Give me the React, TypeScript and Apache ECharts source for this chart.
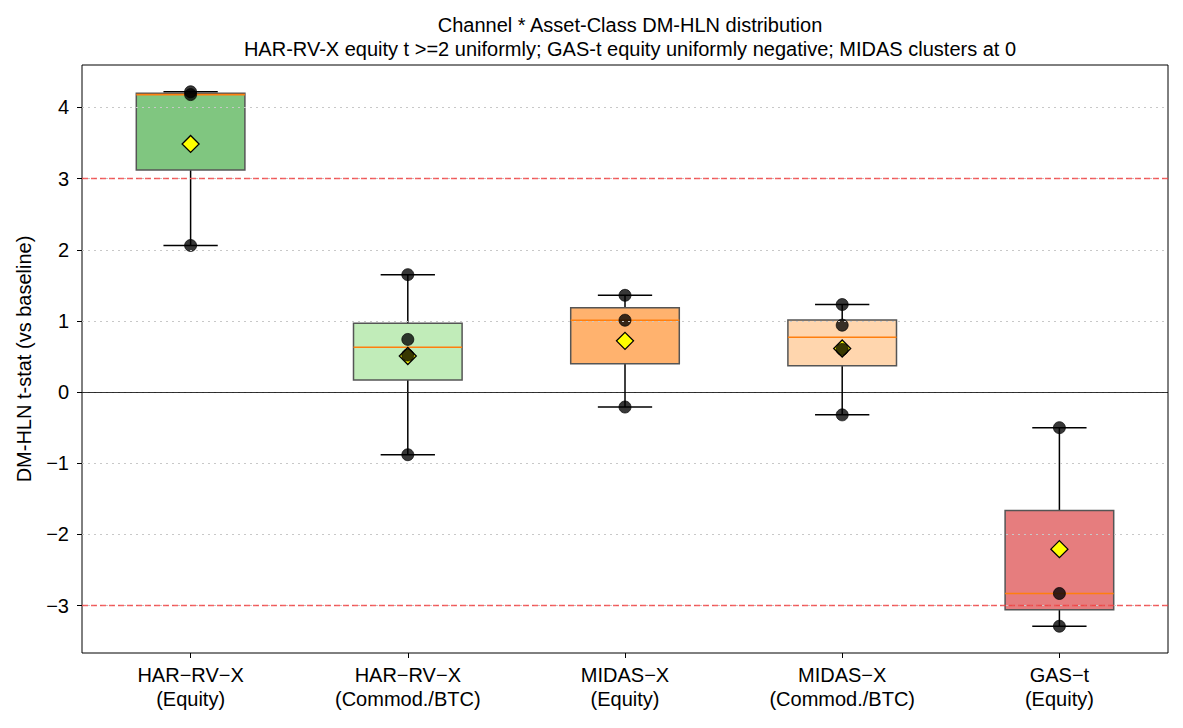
import React, { useEffect, useRef } from "react";
import * as echarts from "echarts";

// Channel x asset-class groups
const categories = [
  "HAR-RV-X\n(Equity)",
  "HAR-RV-X\n(Commod./BTC)",
  "MIDAS-X\n(Equity)",
  "MIDAS-X\n(Commod./BTC)",
  "GAS-t\n(Equity)",
];

// DM-HLN t-statistics per group (vs baseline)
const harEquity = [2.06, 4.18, 4.22];
const harCommod = [-0.88, 0.52, 0.74, 1.65];
const midasEquity = [-0.21, 1.01, 1.36];
const midasCommod = [-0.32, 0.6, 0.94, 1.23];
const gasEquity = [-3.29, -2.83, -0.5];

const groups = [harEquity, harCommod, midasEquity, midasCommod, gasEquity];
const boxColors = ["#80c680", "#c1ecb9", "#ffb26e", "#ffd6ae", "#e67d7e"];

const yTicks = [-3, -2, -1, 0, 1, 2, 3, 4];
const thresholds = [-3, 3];
const yMin = -3.666;
const yMax = 4.596;

const FONT = "'Liberation Sans', Arial, sans-serif";
const FS = 20;

// numpy-style linear percentile
function quantile(sorted: number[], q: number): number {
  const pos = (sorted.length - 1) * q;
  const lo = Math.floor(pos);
  const hi = Math.ceil(pos);
  return sorted[lo] + (sorted[hi] - sorted[lo]) * (pos - lo);
}

// whisker-low, Q1, median, Q3, whisker-high (1.5 IQR rule)
function boxStats(vals: number[]) {
  const s = [...vals].sort((a, b) => a - b);
  const q1 = quantile(s, 0.25);
  const med = quantile(s, 0.5);
  const q3 = quantile(s, 0.75);
  const iqr = q3 - q1;
  const lo = s.filter((v) => v >= q1 - 1.5 * iqr)[0];
  const hiArr = s.filter((v) => v <= q3 + 1.5 * iqr);
  const hi = hiArr[hiArr.length - 1];
  return [lo, q1, med, q3, hi];
}

const minus = (v: number | string) => String(v).replace("-", "\u2212");

export default function App() {
  const ref = useRef<HTMLDivElement>(null);

  useEffect(() => {
    document.body.style.margin = "0";
    if (!ref.current) return;
    const chart = echarts.init(ref.current, undefined, { renderer: "svg" });

    const boxData = groups.map((g, i) => [i, ...boxStats(g)]);
    const meanData = groups.map((g, i) => [i, g.reduce((a, b) => a + b, 0) / g.length]);
    const pointData: number[][] = [];
    groups.forEach((g, i) => g.forEach((v) => pointData.push([i, v])));

    const option: any = {
      animation: false,
      backgroundColor: "#ffffff",
      textStyle: { fontFamily: FONT },
      title: {
        text:
          "Channel * Asset-Class DM-HLN distribution\nHAR-RV-X equity t >=2 uniformly; GAS-t equity uniformly negative; MIDAS clusters at 0",
        left: 625,
        textAlign: "center",
        top: 8,
        textStyle: {
          fontFamily: FONT,
          fontSize: FS,
          fontWeight: "normal",
          color: "#000",
          lineHeight: 24,
        },
      },
      grid: {
        left: 82,
        right: 15,
        top: 65,
        bottom: 75,
        show: true,
        borderColor: "#000",
        borderWidth: 1,
        backgroundColor: "transparent",
      },
      xAxis: {
        type: "category",
        data: categories,
        boundaryGap: true,
        axisLine: { show: false, onZero: false },
        axisTick: {
          show: true,
          alignWithLabel: true,
          length: 5,
          lineStyle: { color: "#000", width: 1 },
        },
        axisLabel: {
          color: "#000",
          fontFamily: FONT,
          fontSize: FS,
          lineHeight: 24,
          margin: 10,
          interval: 0,
          formatter: (v: string) => v.replace(/-/g, "\u2212"),
        },
        splitLine: { show: false },
      },
      yAxis: {
        type: "value",
        min: yMin,
        max: yMax,
        name: "DM-HLN t-stat (vs baseline)",
        nameLocation: "middle",
        nameRotate: 90,
        nameGap: 48,
        nameTextStyle: { fontFamily: FONT, fontSize: FS, color: "#000" },
        axisLine: { show: false, onZero: false },
        axisTick: {
          show: true,
          length: 5,
          customValues: yTicks,
          lineStyle: { color: "#000", width: 1 },
        },
        axisLabel: {
          color: "#000",
          fontFamily: FONT,
          fontSize: FS,
          margin: 13,
          customValues: yTicks,
          formatter: (v: number) => minus(v),
        },
        splitLine: { show: false },
      },
      series: [
        {
          // reference lines: grid, zero line, |t| = 3 thresholds
          type: "line",
          data: [],
          z: 1,
          silent: true,
          markLine: {
            symbol: "none",
            silent: true,
            label: { show: false },
            data: [
              ...yTicks.map((t) => ({
                yAxis: t,
                lineStyle: { type: [2, 4], color: "#c8c8c8", width: 1 },
              })),
              { yAxis: 0, lineStyle: { type: "solid", color: "#000", width: 0.8 } },
              ...thresholds.map((t) => ({
                yAxis: t,
                lineStyle: { type: [6, 3], color: "rgba(240,60,60,0.8)", width: 1.3 },
              })),
            ],
          },
        },
        {
          type: "custom",
          z: 2,
          data: boxData,
          encode: { x: 0, y: [1, 2, 3, 4, 5] },
          renderItem: (params: any, api: any) => {
            const i = api.value(0);
            const band = api.size([1, 0])[0];
            const cx = api.coord([i, 0])[0];
            const y = (k: number) => api.coord([i, api.value(k)])[1];
            const yLo = y(1), yQ1 = y(2), yMed = y(3), yQ3 = y(4), yHi = y(5);
            const hw = band * 0.25;
            const cw = band * 0.125;
            const stroke = { stroke: "#000", lineWidth: 1.5 };
            return {
              type: "group",
              children: [
                { type: "line", shape: { x1: cx, y1: yQ1, x2: cx, y2: yLo }, style: stroke },
                { type: "line", shape: { x1: cx, y1: yQ3, x2: cx, y2: yHi }, style: stroke },
                { type: "line", shape: { x1: cx - cw, y1: yLo, x2: cx + cw, y2: yLo }, style: stroke },
                { type: "line", shape: { x1: cx - cw, y1: yHi, x2: cx + cw, y2: yHi }, style: stroke },
                {
                  type: "rect",
                  shape: { x: cx - hw, y: yQ3, width: hw * 2, height: yQ1 - yQ3 },
                  style: { fill: boxColors[params.dataIndex], stroke: "#555555", lineWidth: 1.5 },
                },
                {
                  type: "line",
                  shape: { x1: cx - hw, y1: yMed, x2: cx + hw, y2: yMed },
                  style: { stroke: "#ff7f0e", lineWidth: 1.6 },
                },
              ],
            };
          },
        },
        {
          type: "scatter",
          z: 3,
          data: meanData,
          symbol: "diamond",
          symbolSize: 17,
          itemStyle: { color: "#ffff00", borderColor: "#000", borderWidth: 1.3, opacity: 1 },
        },
        {
          type: "scatter",
          z: 4,
          data: pointData,
          symbol: "circle",
          symbolSize: 12,
          itemStyle: {
            color: "rgba(0,0,0,0.78)",
            borderColor: "rgba(0,0,0,0.7)",
            borderWidth: 1,
            opacity: 1,
          },
        },
      ],
    };

    chart.setOption(option);
    return () => chart.dispose();
  }, []);

  return <div ref={ref} style={{ width: 1183, height: 728 }} />;
}
